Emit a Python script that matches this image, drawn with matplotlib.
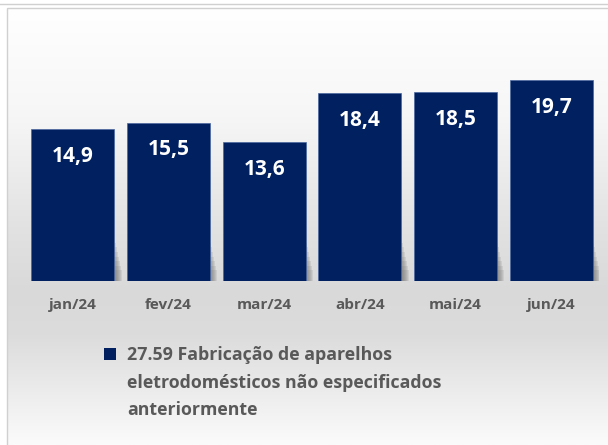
import numpy as np
import matplotlib.pyplot as plt
from matplotlib.patches import Rectangle
from matplotlib.colors import LinearSegmentedColormap

months = ["jan/24", "fev/24", "mar/24", "abr/24", "mai/24", "jun/24"]
values = [14.9, 15.5, 13.6, 18.4, 18.5, 19.7]
series_name = "27.59 Fabricação de aparelhos\neletrodomésticos não especificados\nanteriormente"

navy = "#002060"
gray_txt = "#595959"
font = "Open Sans"

fig = plt.figure(figsize=(6.08, 4.45), dpi=100)

#background panel with vertical gradient (white -> gray -> white)
bg = fig.add_axes([0, 0, 1, 1], zorder=-10)
bg.set_xlim(0, 608)
bg.set_ylim(445, 0)
bg.axis("off")
cmap = LinearSegmentedColormap.from_list(
    "bg", [(0.0, "#ffffff"), (0.25, "#f6f6f6"), (0.5, "#e2e2e2"),
           (0.65, "#d9d9d9"), (0.75, "#dcdcdc"), (1.0, "#fbfbfb")])
grad = np.linspace(0, 1, 256).reshape(-1, 1)
bg.imshow(grad, cmap=cmap, aspect="auto", extent=[7, 608, 445, 8])
bg.add_patch(Rectangle((7, 8), 610, 450, fill=False, edgecolor="#d0d0d0", lw=1))
bg.add_patch(Rectangle((-2, -10), 612, 14, facecolor="white", edgecolor="#d0d0d0", lw=1))

ax = fig.add_axes([25 / 608, 1 - 281 / 445, 574 / 608, 261 / 445])
ax.patch.set_alpha(0)
x = np.arange(len(months))

#soft shadow to the lower right of the bars
for k in range(1, 8):
    ax.bar(x + k * 0.011, [4.2 - k * 0.45] * len(x), width=0.87, color="#606060",
           alpha=0.12, zorder=1)

bars = ax.bar(x, values, width=0.87, color=navy, edgecolor="#4a66a0", linewidth=0.5, zorder=2)

for xi, v in zip(x, values):
    ax.annotate(f"{v:.1f}".replace(".", ","), (xi, v), xytext=(0, -27),
                textcoords="offset pixels", ha="center", va="center",
                color="white", fontsize=15, fontweight="bold", family=font, zorder=3)

ax.set_xlim(-0.5, len(months) - 0.5)
ax.set_ylim(0, 25.6)
ax.set_yticks([])
ax.set_xticks(x)
ax.set_xticklabels(months, color=gray_txt, fontsize=11, fontweight="bold", family=font)
ax.tick_params(axis="x", length=0, pad=12)
for s in ax.spines.values():
    s.set_visible(False)

#legend drawn by hand so the square sits on the first line
bg.add_patch(Rectangle((104, 348), 12, 12, facecolor=navy, edgecolor="none"))
bg.text(127, 346, series_name, ha="left", va="top", color=gray_txt, fontsize=12.8,
        fontweight="bold", family=font, linespacing=1.68)

fig.savefig("out.png", dpi=100)
